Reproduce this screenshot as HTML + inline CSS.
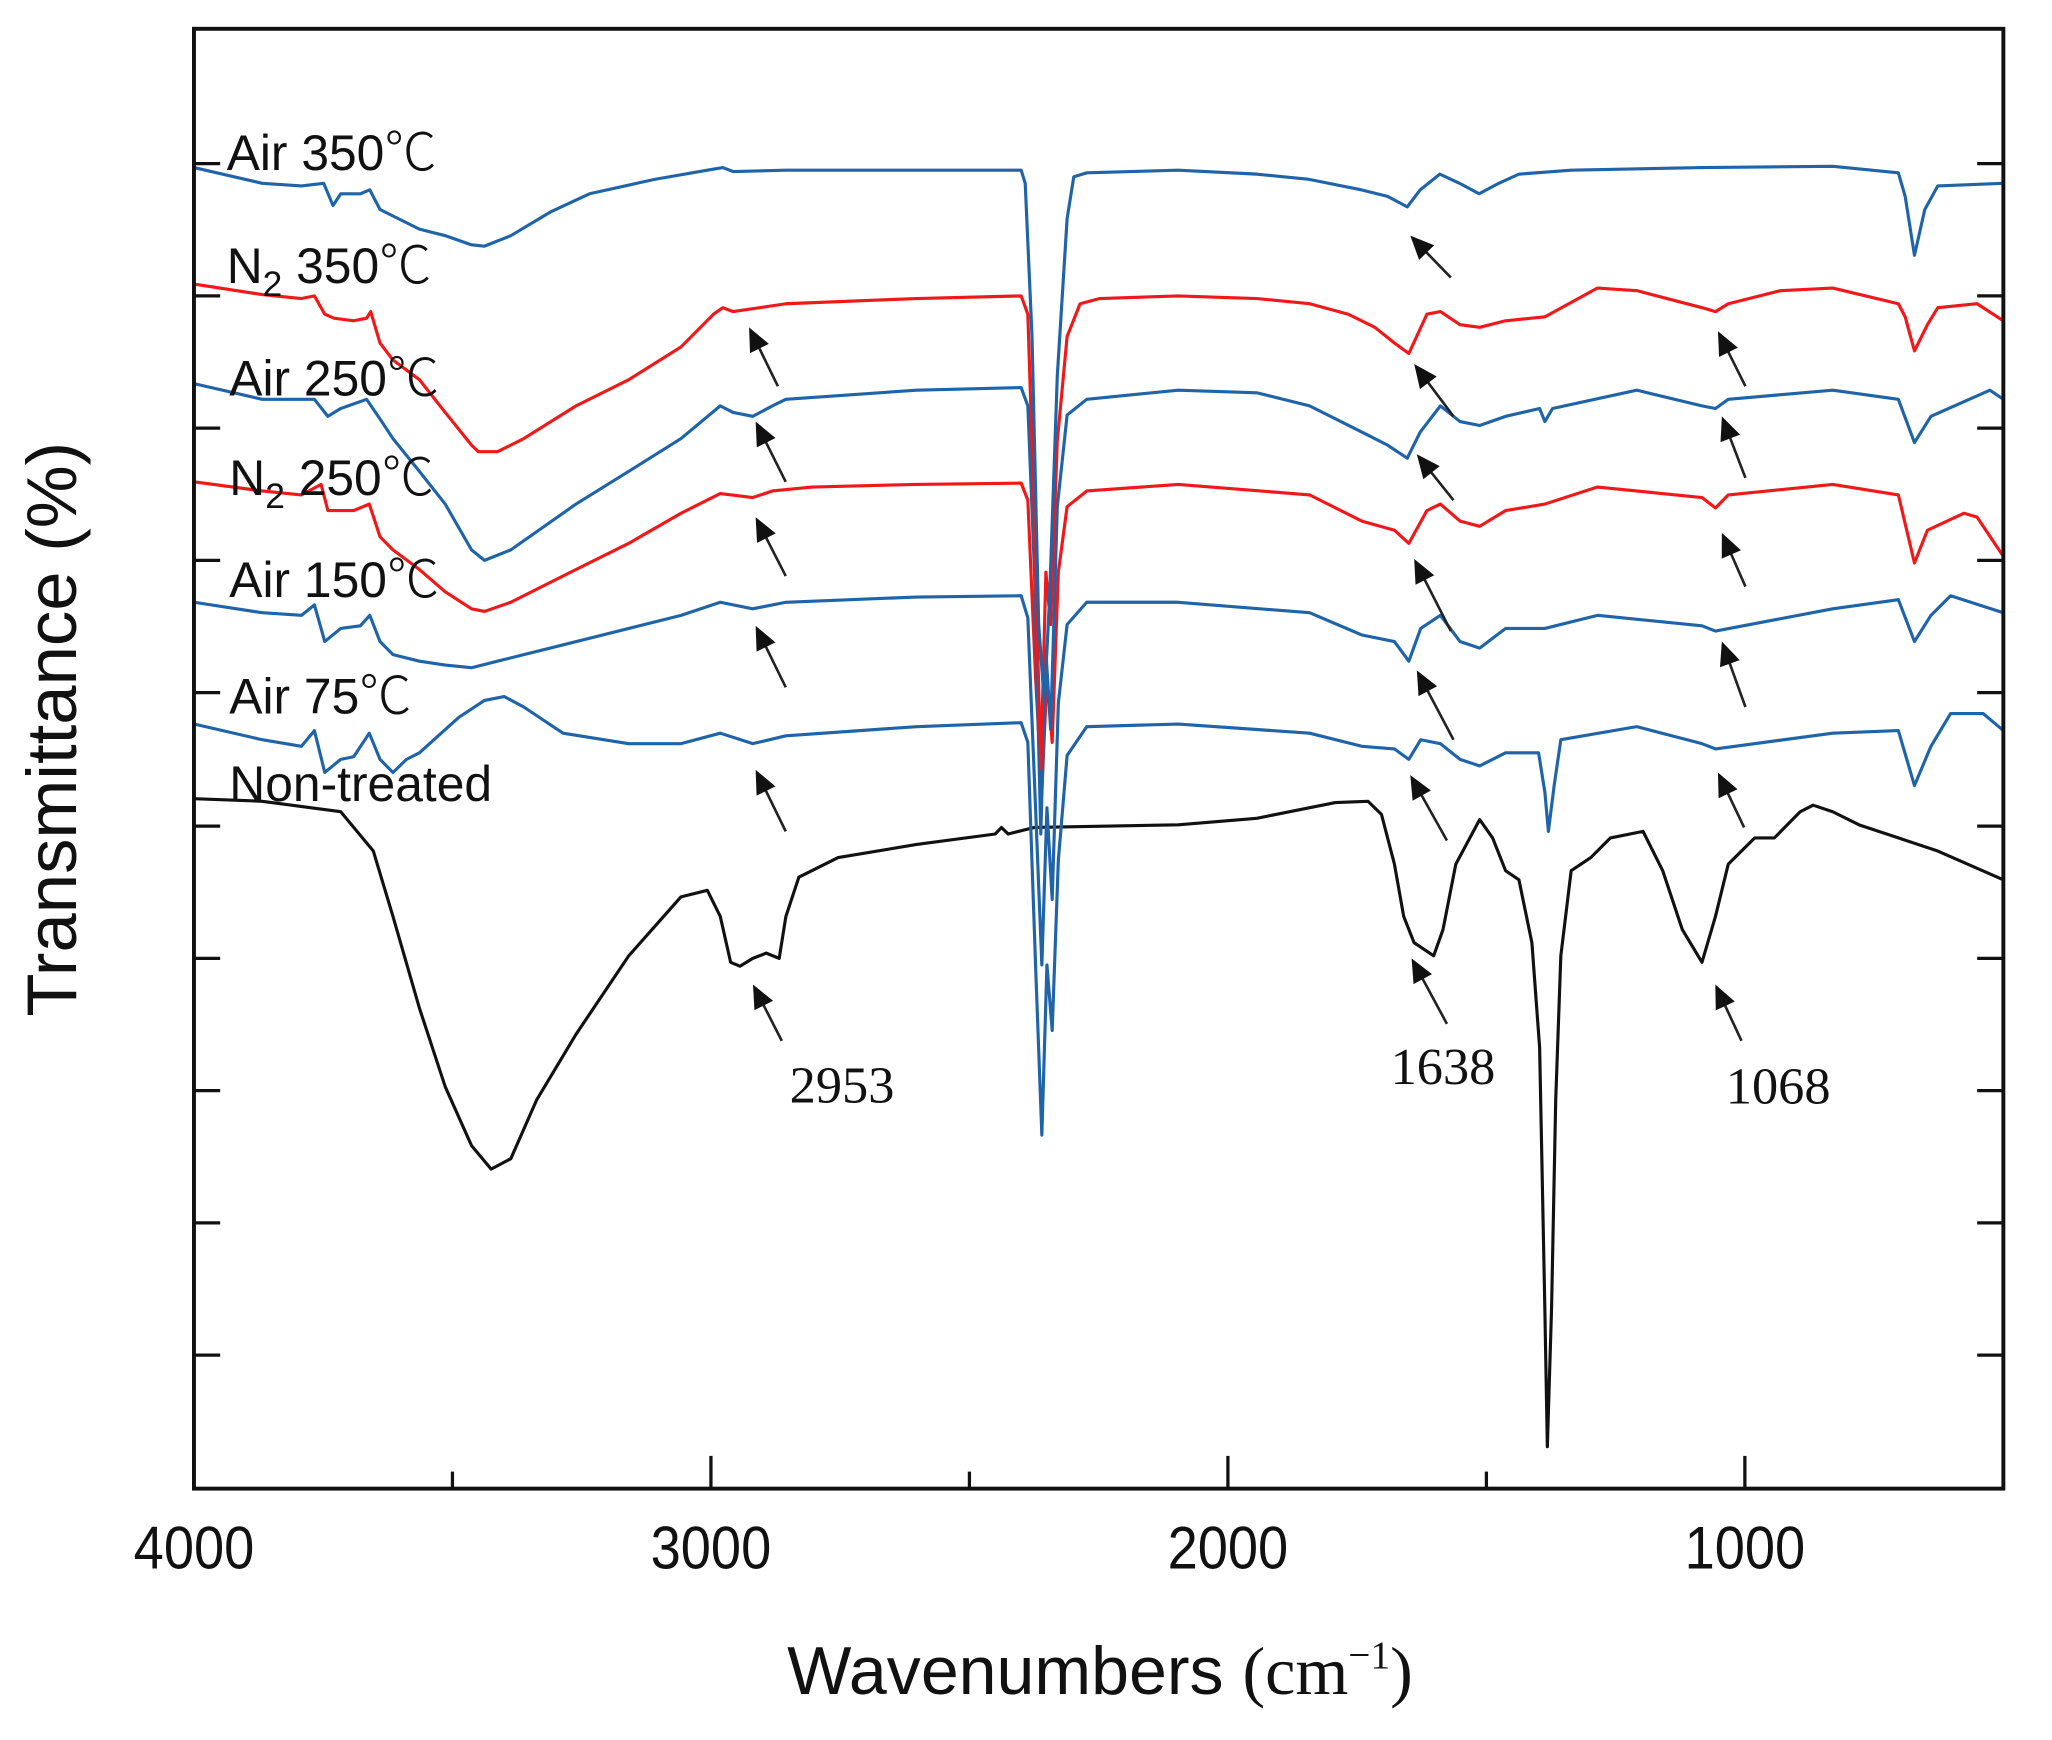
<!DOCTYPE html>
<html><head><meta charset="utf-8"><style>
html,body{margin:0;padding:0;background:#fff;}
svg{display:block;}
.cj{font-family:"Noto Sans CJK SC","WenQuanYi Zen Hei",sans-serif;font-weight:300;}
</style></head><body>
<svg id="chart" width="2052" height="1740" viewBox="0 0 1567 1329" xmlns="http://www.w3.org/2000/svg">
<rect x="0" y="0" width="1567" height="1329" fill="#fff"/>
<g id="series"></g>
<g id="ann"></g>
<g id="axes"></g>
<g font-family="Liberation Sans, sans-serif" font-size="38" fill="#111">
<text x="173" y="130">Air 350<tspan class="cj" font-size="40">℃</tspan></text>
<text x="173" y="216">N<tspan font-size="27" dy="10">2</tspan><tspan dy="-10"> 350</tspan><tspan class="cj" font-size="40">℃</tspan></text>
<text x="175" y="302">Air 250<tspan class="cj" font-size="40">℃</tspan></text>
<text x="175" y="378">N<tspan font-size="27" dy="10">2</tspan><tspan dy="-10"> 250</tspan><tspan class="cj" font-size="40">℃</tspan></text>
<text x="175" y="456">Air 150<tspan class="cj" font-size="40">℃</tspan></text>
<text x="175" y="545">Air 75<tspan class="cj" font-size="40">℃</tspan></text>
<text x="175" y="612">Non-treated</text>
</g>
<g font-family="Liberation Serif, serif" font-size="40" fill="#111">
<text x="603" y="842">2953</text>
<text x="1062" y="828">1638</text>
<text x="1318" y="843">1068</text>
</g>
<text x="840" y="1294" text-anchor="middle" font-family="Liberation Sans, sans-serif" font-size="52" fill="#111">Wavenumbers <tspan font-family="Liberation Serif, serif">(cm<tspan font-size="30" dy="-20">−1</tspan><tspan dy="20">)</tspan></tspan></text>
<text transform="translate(58,557) rotate(-90)" text-anchor="middle" font-family="Liberation Sans, sans-serif" font-size="54" fill="#111">Transmittance (%)</text>
</svg>
<script>
const xTicksMajor = [4000, 3000, 2000, 1000];
const xTicksMinor = [3500, 2500, 1500];
const yTicks = [10.2, 20.3, 30.4, 40.5, 50.6, 60.8, 70.9, 81.0, 91.1, 101.2];

const nonTreated = [[4000,52.7],[3868,52.5],[3716,51.7],[3653,48.7],[3615,43.7],[3564,36.7],[3514,30.7],[3463,26.2],[3425,24.4],[3387,25.2],[3337,29.7],[3261,34.7],[3159,40.7],[3058,45.2],[3007,45.7],[2982,43.7],[2962,40.2],[2944,39.9],[2919,40.5],[2893,40.9],[2868,40.5],[2855,43.7],[2830,46.7],[2754,48.2],[2602,49.2],[2450,50.0],[2438,50.5],[2425,50.0],[2374,50.5],[2096,50.7],[1944,51.2],[1792,52.4],[1729,52.5],[1703,51.5],[1678,47.7],[1660,43.7],[1640,41.7],[1602,40.7],[1584,42.7],[1559,47.7],[1513,51.1],[1488,49.7],[1463,47.2],[1437,46.5],[1412,41.7],[1397,33.7],[1387,13.7],[1382,3.2],[1374,13.7],[1366,29.7],[1356,40.7],[1336,47.2],[1298,48.2],[1260,49.7],[1197,50.2],[1159,47.2],[1121,42.7],[1083,40.2],[1057,43.7],[1032,47.7],[981,49.7],[943,49.7],[893,51.7],[868,52.2],[830,51.7],[779,50.7],[703,49.7],[627,48.7],[500,46.5]];
const air75 = [[4000,58.4],[3868,57.2],[3792,56.7],[3767,57.9],[3747,54.7],[3716,55.7],[3691,55.9],[3661,57.7],[3640,55.7],[3615,54.7],[3589,55.7],[3564,56.2],[3488,58.9],[3438,60.2],[3400,60.5],[3362,59.7],[3286,57.7],[3159,56.9],[3058,56.9],[2982,57.7],[2919,56.9],[2855,57.5],[2602,58.2],[2400,58.5],[2387,57],[2372,40],[2360,27],[2350,40],[2340,35],[2328,48],[2311,56],[2273,58.2],[2096,58.4],[1842,57.7],[1741,56.7],[1678,56.5],[1650,55.7],[1627,57.2],[1589,56.9],[1551,55.7],[1513,55.2],[1463,56.2],[1399,56.2],[1387,53.2],[1380,50.2],[1369,53.7],[1356,57.2],[1209,58.2],[1083,56.9],[1057,56.5],[830,57.7],[703,57.9],[672,53.7],[640,56.7],[602,59.2],[539,59.2],[500,57.9]];
const air150 = [[4000,67.7],[3868,66.9],[3792,66.7],[3767,67.5],[3747,64.7],[3716,65.7],[3678,65.9],[3660,66.7],[3640,64.7],[3615,63.7],[3564,63.2],[3514,62.9],[3463,62.7],[3413,63.2],[3311,64.2],[3159,65.7],[3058,66.7],[2982,67.7],[2919,67.2],[2855,67.7],[2602,68.1],[2400,68.2],[2387,66.5],[2372,52],[2360,40],[2350,52],[2340,45],[2328,60],[2311,66],[2273,67.7],[2096,67.7],[1842,66.9],[1741,65.2],[1678,64.7],[1650,63.2],[1627,65.7],[1589,66.7],[1551,64.7],[1513,64.2],[1463,65.7],[1387,65.7],[1285,66.7],[1083,65.9],[1057,65.5],[830,67.2],[703,67.9],[672,64.7],[640,66.7],[602,68.2],[500,66.9]];
const n2250 = [[4000,76.9],[3868,76.2],[3792,75.9],[3754,76.7],[3741,74.7],[3691,74.7],[3661,75.2],[3640,72.7],[3615,71.7],[3564,70.2],[3514,68.5],[3463,67.2],[3438,67.0],[3387,67.7],[3261,70.2],[3159,72.2],[3058,74.5],[2982,76.0],[2919,75.7],[2881,76.2],[2805,76.5],[2602,76.7],[2400,76.8],[2387,75.5],[2372,62],[2360,53.2],[2350,62],[2340,57],[2328,70],[2311,75],[2273,76.2],[2096,76.7],[1842,75.9],[1741,73.9],[1678,73.2],[1650,72.2],[1615,74.7],[1589,75.2],[1551,73.9],[1513,73.5],[1463,74.7],[1387,75.2],[1285,76.5],[1083,75.7],[1057,74.9],[1032,75.9],[830,76.7],[703,75.9],[672,70.7],[647,73.2],[576,74.5],[551,74.2],[500,71.2]];
const air250 = [[4000,84.4],[3868,83.2],[3767,83.2],[3741,81.9],[3716,82.5],[3666,83.2],[3640,81.7],[3615,80.2],[3564,77.7],[3514,75.2],[3463,71.7],[3438,70.9],[3387,71.7],[3261,75.2],[3159,77.7],[3058,80.2],[2982,82.7],[2957,82.2],[2919,81.9],[2881,82.7],[2855,83.2],[2602,83.9],[2400,84.1],[2387,82.7],[2374,70],[2362,50],[2352,64],[2343,58],[2330,75],[2311,82],[2273,83.2],[2096,83.9],[1944,83.7],[1842,82.7],[1741,80.7],[1691,79.7],[1653,78.7],[1628,80.7],[1589,82.7],[1551,81.5],[1513,81.2],[1463,81.9],[1397,82.5],[1387,81.5],[1372,82.5],[1209,83.9],[1083,82.7],[1057,82.5],[1032,83.2],[830,83.9],[703,83.2],[672,79.9],[640,81.9],[526,83.9],[500,83.2]];
const n2350 = [[4000,92.0],[3868,91.2],[3792,90.9],[3767,91.1],[3747,89.7],[3729,89.4],[3691,89.2],[3666,89.4],[3658,89.9],[3640,87.5],[3615,86.2],[3564,84.7],[3514,82.2],[3463,79.7],[3450,79.2],[3413,79.2],[3362,80.2],[3261,82.7],[3159,84.7],[3058,87.2],[2995,89.7],[2977,90.2],[2957,89.9],[2855,90.5],[2602,90.9],[2400,91.1],[2387,89.7],[2375,75],[2362,55],[2352,70],[2343,66],[2330,80],[2311,88],[2286,90.5],[2248,90.9],[2096,91.1],[1944,90.9],[1842,90.5],[1767,89.7],[1716,88.7],[1678,87.5],[1650,86.7],[1615,89.7],[1589,89.9],[1551,88.9],[1513,88.7],[1463,89.2],[1387,89.5],[1285,91.7],[1209,91.5],[1083,90.2],[1057,89.9],[1032,90.5],[931,91.5],[830,91.7],[703,90.5],[690,89.5],[672,86.9],[647,88.9],[627,90.2],[551,90.5],[500,89.2]];
const air350 = [[4000,100.9],[3868,99.7],[3792,99.5],[3749,99.7],[3731,98.0],[3716,98.9],[3678,98.9],[3660,99.2],[3640,97.7],[3615,97.2],[3564,96.2],[3514,95.7],[3463,95.0],[3438,94.9],[3387,95.7],[3311,97.5],[3235,98.9],[3109,100.0],[3007,100.7],[2977,100.9],[2957,100.6],[2855,100.7],[2602,100.7],[2400,100.7],[2392,99.7],[2379,88],[2366,66],[2355,60],[2345,68],[2330,85],[2311,97],[2298,100.2],[2273,100.5],[2096,100.7],[1944,100.4],[1843,100.0],[1742,99.2],[1691,98.7],[1653,97.9],[1628,99.2],[1590,100.4],[1552,99.7],[1514,98.9],[1476,99.7],[1437,100.4],[1336,100.7],[1083,100.9],[830,101.0],[703,100.5],[690,98.7],[672,94.2],[652,97.7],[627,99.5],[500,99.7]];

const NS = 'http://www.w3.org/2000/svg';
const L = 148, R = 1530, T = 22, B = 1137;
function xs(w){ return L + (4000 - w) * (R - L) / 3500; }
function ys(v){ return B - v * 10; }
function mk(tag, attrs, parent){ const e = document.createElementNS(NS, tag); for (const k in attrs) e.setAttribute(k, attrs[k]); parent.appendChild(e); return e; }

const sg = document.getElementById('series');
const seriesList = [
  [nonTreated, '#111', 'series-non-treated'],
  [air75, '#1f64a8', 'series-air-75'],
  [air150, '#1f64a8', 'series-air-150'],
  [n2250, '#f01818', 'series-n2-250'],
  [air250, '#1f64a8', 'series-air-250'],
  [n2350, '#f01818', 'series-n2-350'],
  [air350, '#1f64a8', 'series-air-350']
];
seriesList.forEach(s => {
  const d = s[0].map((p, i) => (i ? 'L' : 'M') + xs(p[0]).toFixed(1) + ' ' + ys(p[1]).toFixed(1)).join(' ');
  const p = mk('path', {d: d, fill: 'none', stroke: s[1], 'stroke-width': 2.4, 'stroke-linejoin': 'round'}, sg);
  
  
});

const ag = document.getElementById('axes');
const frame = mk('rect', {x: L, y: T, width: R - L, height: B - T, fill: 'none', stroke: '#111', 'stroke-width': 3}, ag);


xTicksMajor.forEach(w => {
  const t = mk('line', {x1: xs(w), x2: xs(w), y1: B, y2: B - 25, stroke: '#111', 'stroke-width': 2.5}, ag);
  
  
  const lb = mk('text', {x: 0, y: 0, 'text-anchor': 'middle', transform: 'translate(' + xs(w) + ',1198) scale(0.9,1)', 'font-family': 'Liberation Sans, sans-serif', 'font-size': 46, fill: '#111'}, ag);
  lb.textContent = w;
  
  
});
xTicksMinor.forEach(w => {
  const t = mk('line', {x1: xs(w), x2: xs(w), y1: B, y2: B - 13, stroke: '#111', 'stroke-width': 2.5}, ag);
  
  
});
yTicks.forEach(v => {
  const a = mk('line', {x1: L, x2: L + 20, y1: ys(v), y2: ys(v), stroke: '#111', 'stroke-width': 2.5}, ag);
  
  
  const b = mk('line', {x1: R, x2: R - 20, y1: ys(v), y2: ys(v), stroke: '#111', 'stroke-width': 2.5}, ag);
  
  
});

const an = document.getElementById('ann');
const arrows = [
  [572,250,594,295],[577,322,600,368],[577,395,600,440],[577,478,600,525],[577,588,600,635],[575,752,597,795],
  [1077,180,1108,212],[1080,278,1110,318],[1082,347,1110,382],[1080,427,1108,482],[1082,512,1110,565],[1077,592,1105,642],[1078,732,1105,782],
  [1312,253,1333,295],[1315,318,1333,365],[1315,407,1333,448],[1315,490,1333,540],[1312,590,1332,632],[1310,752,1330,795]
];
arrows.forEach(a => {
  const [hx, hy, tx, ty] = a;
  const dx = tx - hx, dy = ty - hy, len = Math.hypot(dx, dy), ux = dx / len, uy = dy / len;
  const ln = mk('line', {x1: tx, y1: ty, x2: hx + ux * 10, y2: hy + uy * 10, stroke: '#222', 'stroke-width': 2}, an);
  
  
  const bx = hx + ux * 18, by = hy + uy * 18, px = -uy * 8, py = ux * 8;
  const hd = mk('polygon', {points: hx + ',' + hy + ' ' + (bx + px) + ',' + (by + py) + ' ' + (bx - px) + ',' + (by - py), fill: '#111'}, an);
  
  
});
</script>
</body></html>
